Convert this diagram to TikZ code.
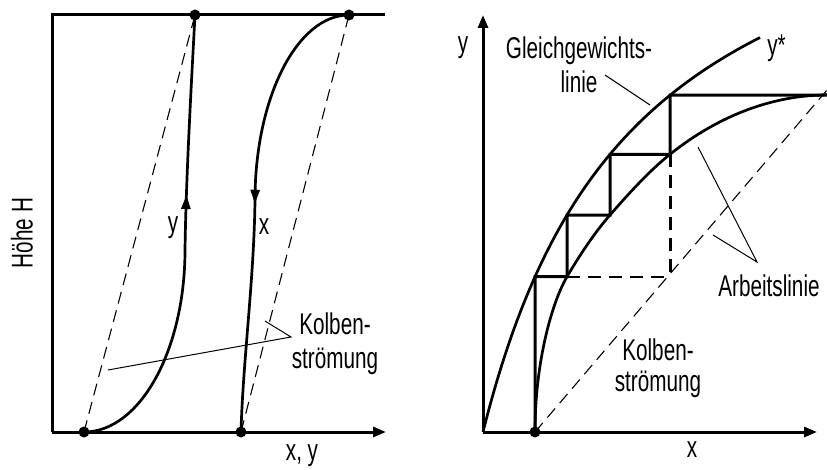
\documentclass[tikz,border=0pt]{standalone}
\usepackage{fontspec}
\setmainfont{Liberation Sans}[FakeStretch=0.69]
\usepackage{tikz}
\usetikzlibrary{arrows.meta,decorations.markings}

\begin{document}
\begin{tikzpicture}[x=1pt,y=-1pt,>={Triangle[length=13pt,width=10pt]},line width=1pt,
        font=\fontsize{30}{34}\selectfont]
    \tikzstyle{ax}=[line width=3pt]
    \tikzstyle{crv}=[line width=2.7pt]
    \tikzstyle{kolb}=[line width=1.1pt,dash pattern=on 12pt off 7pt]
    \tikzstyle{lead}=[line width=1pt]
    \tikzstyle{dot}=[circle,fill=black,inner sep=0pt,minimum size=11pt]
    \tikzstyle{lbl}=[inner sep=0pt]
    \tikzstyle{yflow}=[postaction={decorate},decoration={markings,
        mark=at position 0.61 with {\arrow{Triangle[length=14pt,width=9pt]}}}]
    \tikzstyle{xflow}=[postaction={decorate},decoration={markings,
        mark=at position 0.50 with {\arrow{Triangle[length=14pt,width=9pt]}}}]

    \useasboundingbox (0,0) rectangle (827,470);

    % links: Profile ueber der Hoehe
    \coordinate (LO) at (52,432);
    \coordinate (LT) at (52,15);
    \coordinate (LTr) at (385,15);
    \coordinate (LX) at (386,432);
    \draw[ax] (LO) -- (LT) -- (LTr);
    \draw[ax,->] (LO) -- (LX);

    \node[dot] (A) at (84,432) {};
    \node[dot] (D) at (241,432) {};
    \node[dot] (B) at (195,15) {};
    \node[dot] (C) at (349,15) {};

    \draw[kolb] (A.center) -- (B.center);
    \draw[kolb] (D.center) -- (C.center);

    \draw[crv,yflow] (A.center) .. controls (140,432) and (185,350) .. (185,250)
        .. controls (186,180) and (191,90) .. (B.center);
    \draw[crv,xflow] (C.center) .. controls (297,15) and (255,98) .. (255,200)
        .. controls (254,280) and (243,360) .. (D.center);

    \node[lbl,rotate=90] (hoehe) at (22,233) {Höhe H};
    \node[lbl,anchor=base] (ylabL) at (173,233) {y};
    \node[lbl,anchor=base] (xlabL) at (264,235) {x};
    \node[lbl,anchor=base] (xyL) at (302,460) {x, y};
    \node[lbl,align=center] (kolbL) at (335,344) {Kolben-\\strömung};

    \coordinate (kL) at (291,337);
    \draw[lead] (108,370) -- (kL) -- (265,321);

    % rechts: Treppenzug
    \coordinate (RO) at (483,432);
    \coordinate (RY) at (483,15);
    \coordinate (RX) at (817,432);
    \draw[ax,->] (RO) -- (RY);
    \draw[ax,->] (RO) -- (RX);

    \node[dot] (E) at (535,432) {};

    \coordinate (g1) at (535,{432-52/(0.25+0.00163*52)});
    \coordinate (g2) at (567,{432-84/(0.25+0.00163*84)});
    \coordinate (g3) at (610,{432-127/(0.25+0.00163*127)});
    \coordinate (g4) at (670,{432-187/(0.25+0.00163*187)});
    \coordinate (a1) at (g1 -| g2);
    \coordinate (a2) at (g2 -| g3);
    \coordinate (a3) at (g3 -| g4);
    \coordinate (a4) at (827,95);
    \coordinate (q) at (a1 -| g4);
    \coordinate (kend) at (827,90);

    \draw[crv] plot[domain=0:277,samples=90] ({483+\x},{432-\x/(0.25+0.00163*\x)})
        node[lbl,anchor=base west,xshift=6pt,yshift=-18pt] (ystarlab) {y*};
    \draw[crv] (E.center) .. controls +(0,-70) and +(-15,25.5) .. (a1)
        .. controls +(14,-23.8) and +(-15,17.25) .. (a2)
        .. controls +(20,-23) and +(-20,16) .. (a3)
        .. controls +(50,-40) and +(-52,0) .. (a4);

    \draw[ax] (E.center) -- (g1) -- (a1) -- (g2) -- (a2) -- (g3) -- (a3) -- (g4) -- (a4);
    \draw[line width=2pt,dash pattern=on 13pt off 8pt] (a1) -- (q);
    \draw[line width=3pt,dash pattern=on 13pt off 8pt] (a3) -- (q);
    \draw[kolb] (E.center) -- (kend);

    \node[lbl,anchor=base] (ylabR) at (463,52.5) {y};
    \node[lbl,anchor=base] (xlabR) at (692,457) {x};
    \node[lbl,align=center] (gleich) at (579,65) {Gleichgewichts-\\linie};
    \node[lbl,anchor=base] (arbeit) at (769,297) {Arbeitslinie};
    \node[lbl,align=center] (kolbR) at (658,368) {Kolben-\\[-3pt]strömung};

    \coordinate (gL) at (605,75);
    \coordinate (aL) at (757,262);
    \draw[lead] (gL) -- (650,105);
    \draw[lead] (698,147) -- (aL) -- (713,235);
\end{tikzpicture}
\end{document}
